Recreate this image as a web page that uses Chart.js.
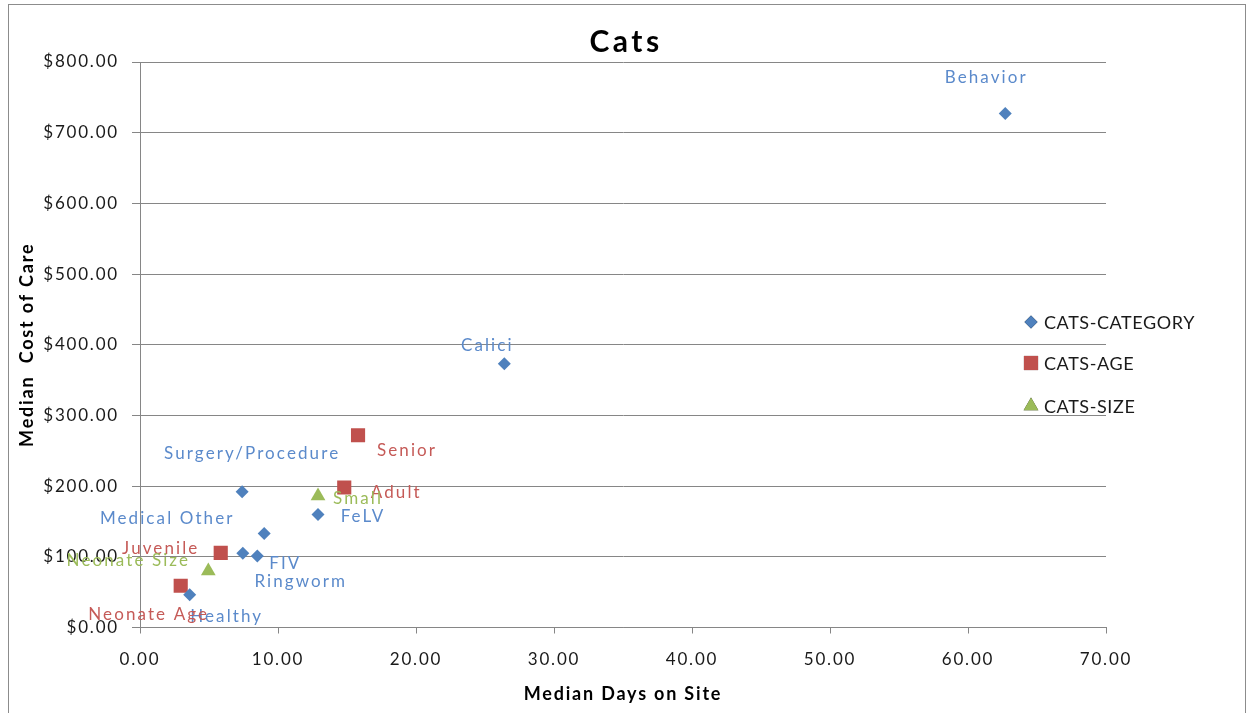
<!DOCTYPE html>
<html>
<head>
<meta charset="utf-8">
<script src="https://cdn.jsdelivr.net/npm/chart.js@4/dist/chart.umd.min.js"></script>
<style>
html,body{margin:0;padding:0;background:#fff;}
#wrap{position:relative;width:1250px;height:713px;}
</style>
</head>
<body>
<div id="wrap"><canvas id="c" width="1250" height="713"></canvas></div>
<script>
// ---- data ----
const chartTitle = "Cats";
const categoryNames = ["Behavior","Calici","Surgery/Procedure","FeLV","Medical Other","FIV","Ringworm","Healthy"];
const categoryDays  = [62.7, 26.4, 7.4, 12.9, 9.0, 8.5, 7.45, 3.6];
const categoryCost  = [727, 373, 192, 160, 133, 101, 105, 46.5];

const ageNames = ["Senior","Adult","Juvenile","Neonate Age"];
const ageDays  = [15.8, 14.8, 5.85, 2.95];
const ageCost  = [272, 198, 105.5, 59];

const sizeNames = ["Small","Neonate Size"];
const sizeDays  = [12.9, 4.95];
const sizeCost  = [186, 80];

const seriesNames = ["CATS-CATEGORY","CATS-AGE","CATS-SIZE"];
const xTicks = [0,10,20,30,40,50,60,70];
const yTicks = [0,100,200,300,400,500,600,700,800];

// label offsets (pixels, style only)
const categoryLabelOffsets = [[-20,-36],[-18,-18],[9,-38],[44,2],[-98,-15],[27,7],[57,28],[36,22]];
const ageLabelOffsets = [[48,15],[51,5],[-61,-4],[-33,29]];
const sizeLabelOffsets = [[39,2],[-81,-10]];

function pts(xs, ys){ return xs.map((x,i)=>({x:x, y:ys[i]})); }

const BLUE="#4F81BD", RED="#C0504D", GREEN="#9BBB59";
const LBLUE="#5B8ACB", LRED="#C55A57", LGREEN="#9BBB59";
const FONT="Lato, 'Open Sans', sans-serif";

const framePlugin = {
  id:'frame',
  beforeDraw(chart){
    const ctx=chart.ctx;
    ctx.save();
    ctx.fillStyle="#fff"; ctx.fillRect(0,0,chart.width,chart.height);
    ctx.strokeStyle="#8c8c8c"; ctx.lineWidth=1;
    ctx.strokeRect(8.5,4.5,1237,720);
    ctx.restore();
    ctx.letterSpacing = "1.8px";
  }
};

const titlePlugin = {
  id:'titleText',
  afterDraw(chart){
    const ctx=chart.ctx;
    ctx.save();
    ctx.letterSpacing="3.5px";
    ctx.font="bold 30px " + FONT;
    ctx.fillStyle="#000";
    ctx.textAlign="center"; ctx.textBaseline="alphabetic";
    ctx.fillText(chartTitle, 626, 52);
    ctx.restore();
  }
};

const labelPlugin = {
  id:'pointLabels',
  afterDatasetsDraw(chart){
    const ctx=chart.ctx;
    ctx.save();
    ctx.letterSpacing="2.1px";
    ctx.font = "17px " + FONT;
    ctx.textAlign="center"; ctx.textBaseline="middle";
    chart.data.datasets.forEach((ds,di)=>{
      const meta=chart.getDatasetMeta(di);
      meta.data.forEach((el,i)=>{
        const off=ds.labelOffsets[i];
        ctx.fillStyle=ds.labelColor;
        ctx.fillText(ds.names[i], el.x+off[0]+1, el.y+off[1]);
      });
    });
    ctx.restore();
  }
};

const legendPlugin = {
  id:'customLegend',
  afterDraw(chart){
    const ctx=chart.ctx;
    const ys=[322,363,406];
    ctx.save();
    ctx.letterSpacing="0.6px";
    ctx.font="18px " + FONT;
    ctx.textAlign="left"; ctx.textBaseline="middle";
    chart.data.datasets.forEach((ds,di)=>{
      const y=ys[di], x=1031;
      Chart.helpers.drawPoint(ctx,{pointStyle:ds.pointStyle,radius:ds.pointRadius,borderWidth:0,rotation:0}, x, y);
      ctx.fillStyle=ds.backgroundColor;
      ctx.fill();
      ctx.fillStyle="#1a1a1a";
      ctx.fillText(seriesNames[di], 1044, y+1);
    });
    ctx.restore();
  }
};

new Chart(document.getElementById('c'),{
  type:'scatter',
  data:{
    datasets:[
      {label:seriesNames[0], data:pts(categoryDays,categoryCost), names:categoryNames, labelOffsets:categoryLabelOffsets, labelColor:LBLUE,
       pointStyle:'rectRot', pointRadius:6.5, backgroundColor:BLUE, borderColor:BLUE, borderWidth:0},
      {label:seriesNames[1], data:pts(ageDays,ageCost), names:ageNames, labelOffsets:ageLabelOffsets, labelColor:LRED,
       pointStyle:'rect', pointRadius:10, backgroundColor:RED, borderColor:RED, borderWidth:0},
      {label:seriesNames[2], data:pts(sizeDays,sizeCost), names:sizeNames, labelOffsets:sizeLabelOffsets, labelColor:LGREEN,
       pointStyle:'triangle', pointRadius:8.5, backgroundColor:GREEN, borderColor:GREEN, borderWidth:0}
    ]
  },
  options:{
    responsive:false, animation:false,
    layout:{padding:{left:10,right:144,top:62,bottom:0}},
    plugins:{
      legend:{display:false},
      tooltip:{enabled:false},
      title:{display:false}
    },
    scales:{
      x:{
        type:'linear', min:0, max:70,
        afterBuildTicks(s){ s.ticks = xTicks.map(v=>({value:v})); },
        afterFit(s){ s.height = 85.5; },
        border:{display:true,color:"#868686",width:1},
        grid:{drawOnChartArea:false, drawTicks:true, tickLength:6, color:"#868686"},
        ticks:{color:"#1a1a1a", padding:16, font:{family:FONT,size:17}, callback:v=>v.toFixed(2)},
        title:{display:true, text:"Median Days on Site", color:"#000", font:{family:FONT,size:18,weight:'bold',lineHeight:1.2}, padding:{top:0,bottom:8}}
      },
      y:{
        type:'linear', min:0, max:800,
        afterBuildTicks(s){ s.ticks = yTicks.map(v=>({value:v})); },
        afterFit(s){ s.width = 130; },
        border:{display:true,color:"#868686",width:1},
        grid:{drawOnChartArea:true, drawTicks:true, tickLength:8, color:"#868686"},
        ticks:{color:"#1a1a1a", padding:13, font:{family:FONT,size:17}, callback:v=>"$"+v.toFixed(2)},
        title:{display:true, text:"Median  Cost of Care", color:"#000", font:{family:FONT,size:18,weight:'bold',lineHeight:1.2}, padding:{top:6.5,bottom:0}}
      }
    }
  },
  plugins:[framePlugin,labelPlugin,legendPlugin,titlePlugin]
});
</script>
</body>
</html>
